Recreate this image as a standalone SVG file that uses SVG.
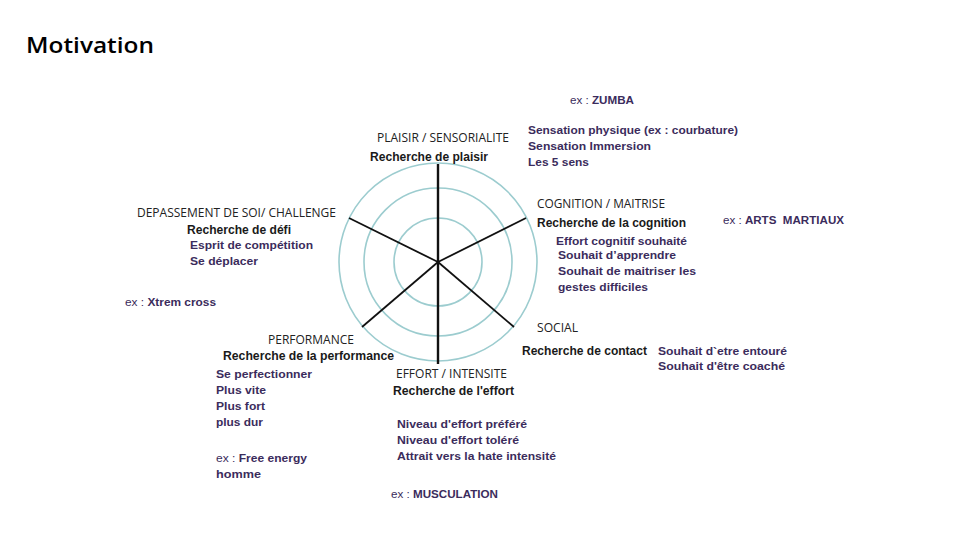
<svg xmlns="http://www.w3.org/2000/svg" width="960" height="540" viewBox="0 0 960 540">
<style>
.title{font-family:"Open Sans","Liberation Sans",sans-serif;font-weight:600;font-size:21px;fill:#000}
.head{font-family:"Open Sans","Liberation Sans",sans-serif;font-weight:400;font-size:12.5px;fill:#222}
.rech{font-family:"Liberation Sans",Arial,sans-serif;font-weight:700;font-size:12px;fill:#1a1a1a}
.item{font-family:"Liberation Sans",Arial,sans-serif;font-weight:700;font-size:11.8px;fill:#3b2c5c}
.ex{font-family:"Liberation Sans",Arial,sans-serif;font-weight:400;font-size:11.8px;fill:#3b2c5c;white-space:pre}
.exb{font-weight:700}
.ring{fill:none;stroke:#9ccccf;stroke-width:1.6}
.spoke{stroke:#111;stroke-width:1.8}
</style>
<rect width="960" height="540" fill="#fff"/>
<text class="title" x="26" y="53" textLength="128" lengthAdjust="spacingAndGlyphs">Motivation</text>

<g id="radar">
<circle class="ring" cx="438" cy="262" r="44"/>
<circle class="ring" cx="438" cy="262" r="74"/>
<circle class="ring" cx="438" cy="262" r="99"/>
</g>
<g id="connectors">
<line class="spoke" x1="438" y1="164" x2="438" y2="364" style="stroke-width:2.4"/>
<line class="spoke" x1="438" y1="262" x2="349" y2="218"/>
<line class="spoke" x1="438" y1="262" x2="526" y2="218"/>
<line class="spoke" x1="438" y1="262" x2="362" y2="327"/>
<line class="spoke" x1="438" y1="262" x2="514" y2="327"/>
</g>

<g id="plaisir">
<text class="ex" x="570" y="104" textLength="64" lengthAdjust="spacingAndGlyphs">ex : <tspan class="exb">ZUMBA</tspan></text>
<text class="head" x="377" y="142" textLength="132" lengthAdjust="spacingAndGlyphs">PLAISIR / SENSORIALITE</text>
<text class="rech" x="370" y="161" textLength="118" lengthAdjust="spacingAndGlyphs">Recherche de plaisir</text>
<text class="item" x="528" y="134" textLength="210" lengthAdjust="spacingAndGlyphs">Sensation physique (ex : courbature)</text>
<text class="item" x="528" y="150" textLength="123" lengthAdjust="spacingAndGlyphs">Sensation Immersion</text>
<text class="item" x="528" y="166" textLength="61" lengthAdjust="spacingAndGlyphs">Les 5 sens</text>
</g>

<g id="depassement">
<text class="head" x="137" y="217" textLength="199" lengthAdjust="spacingAndGlyphs">DEPASSEMENT DE SOI/ CHALLENGE</text>
<text class="rech" x="187" y="234" textLength="104" lengthAdjust="spacingAndGlyphs">Recherche de défi</text>
<text class="item" x="190" y="249" textLength="123" lengthAdjust="spacingAndGlyphs">Esprit de compétition</text>
<text class="item" x="190" y="265" textLength="68" lengthAdjust="spacingAndGlyphs">Se déplacer</text>
<text class="ex" x="125" y="306" textLength="91" lengthAdjust="spacingAndGlyphs">ex : <tspan class="exb">Xtrem cross</tspan></text>
</g>

<g id="cognition">
<text class="head" x="537" y="208" textLength="128" lengthAdjust="spacingAndGlyphs">COGNITION / MAITRISE</text>
<text class="rech" x="537" y="227" textLength="149" lengthAdjust="spacingAndGlyphs">Recherche de la cognition</text>
<text class="ex" x="723" y="224" textLength="121" lengthAdjust="spacingAndGlyphs">ex : <tspan class="exb">ARTS  MARTIAUX</tspan></text>
<text class="item" x="556" y="245" textLength="131" lengthAdjust="spacingAndGlyphs">Effort cognitif souhaité</text>
<text class="item" x="558" y="259" textLength="118" lengthAdjust="spacingAndGlyphs">Souhait d’apprendre</text>
<text class="item" x="558" y="275" textLength="138" lengthAdjust="spacingAndGlyphs">Souhait de maitriser les</text>
<text class="item" x="558" y="291" textLength="90" lengthAdjust="spacingAndGlyphs">gestes difficiles</text>
</g>

<g id="social">
<text class="head" x="537" y="332" textLength="41" lengthAdjust="spacingAndGlyphs">SOCIAL</text>
<text class="rech" x="522" y="355" textLength="125" lengthAdjust="spacingAndGlyphs">Recherche de contact</text>
<text class="item" x="658" y="355" textLength="129" lengthAdjust="spacingAndGlyphs">Souhait d`etre entouré</text>
<text class="item" x="658" y="370" textLength="127" lengthAdjust="spacingAndGlyphs">Souhait d'être coaché</text>
</g>

<g id="performance">
<text class="head" x="268" y="344" textLength="86" lengthAdjust="spacingAndGlyphs">PERFORMANCE</text>
<text class="rech" x="223" y="360" textLength="171" lengthAdjust="spacingAndGlyphs">Recherche de la performance</text>
<text class="item" x="216" y="378" textLength="96" lengthAdjust="spacingAndGlyphs">Se perfectionner</text>
<text class="item" x="216" y="394" textLength="50" lengthAdjust="spacingAndGlyphs">Plus vite</text>
<text class="item" x="216" y="410" textLength="49" lengthAdjust="spacingAndGlyphs">Plus fort</text>
<text class="item" x="216" y="426" textLength="47" lengthAdjust="spacingAndGlyphs">plus dur</text>
<text class="ex" x="216" y="462" textLength="91" lengthAdjust="spacingAndGlyphs">ex : <tspan class="exb">Free energy</tspan></text>
<text class="item" x="216" y="478" textLength="45" lengthAdjust="spacingAndGlyphs">homme</text>
</g>

<g id="effort">
<text class="head" x="396" y="378" textLength="111" lengthAdjust="spacingAndGlyphs">EFFORT / INTENSITE</text>
<text class="rech" x="393" y="395" textLength="121" lengthAdjust="spacingAndGlyphs">Recherche de l'effort</text>
<text class="item" x="397" y="428" textLength="130" lengthAdjust="spacingAndGlyphs">Niveau d'effort préféré</text>
<text class="item" x="397" y="444" textLength="122" lengthAdjust="spacingAndGlyphs">Niveau d'effort toléré</text>
<text class="item" x="397" y="460" textLength="159" lengthAdjust="spacingAndGlyphs">Attrait vers la hate intensité</text>
<text class="ex" x="391" y="498" textLength="107" lengthAdjust="spacingAndGlyphs">ex : <tspan class="exb">MUSCULATION</tspan></text>
</g>
</svg>
